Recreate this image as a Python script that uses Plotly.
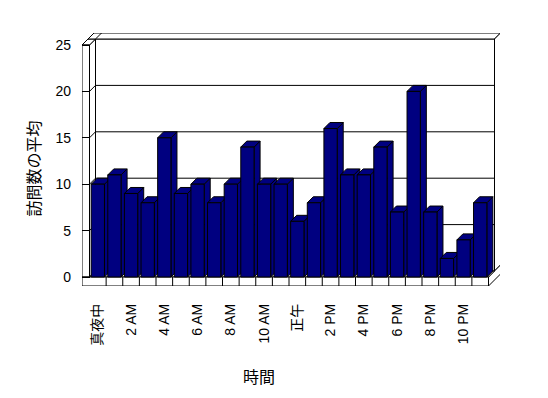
import plotly.graph_objects as go

# ---- data ----
categories = ["真夜中", "1 AM", "2 AM", "3 AM", "4 AM", "5 AM", "6 AM", "7 AM",
              "8 AM", "9 AM", "10 AM", "11 AM", "正午", "1 PM", "2 PM", "3 PM",
              "4 PM", "5 PM", "6 PM", "7 PM", "8 PM", "9 PM", "10 PM", "11 PM"]
visits = [10, 11, 9, 8, 15, 9, 10, 8, 10, 14, 10, 10,
          6, 8, 16, 11, 11, 14, 7, 20, 7, 2, 4, 8]
y_ticks = [0, 5, 10, 15, 20, 25]
x_title = "時間"
y_title = "訪問数の平均"

# ---- geometry (pixels) ----
W, H = 548, 398
L, R, T, B = 82, 48, 33, 112
plot_w, plot_h = W - L - R, H - T - B
front_left_px, front_right_px = 89.5, 488.5      # front plane x extent
zero_px, top_px = 277.0, 45.0                     # front plane y for 0 and 25
n = len(categories)
cat_px = (front_right_px - front_left_px) / n
unit_px = (zero_px - top_px) / 25.0
depth_px = 6.0

x0 = -0.5 - (front_left_px - L) / cat_px
x1 = x0 + plot_w / cat_px
y0 = -((T + plot_h) - zero_px) / unit_px
y1 = y0 + plot_h / unit_px
DX = depth_px / cat_px
DY = depth_px / unit_px
XL, XR = -0.5, n - 0.5
YT = max(y_ticks)


def P(x, y, z):
    return (x + z * DX, y + z * DY)


def path(pts):
    s = "M " + " L ".join(f"{x:.4f},{y:.4f}" for x, y in pts) + " Z"
    return s


shapes = []


def face(pts, fill="white"):
    shapes.append(dict(type="path", xref="x", yref="y", path=path(pts),
                       fillcolor=fill, line=dict(color="black", width=1),
                       layer="below"))


def seg(a, b):
    shapes.append(dict(type="line", xref="x", yref="y", x0=a[0], y0=a[1],
                       x1=b[0], y1=b[1], line=dict(color="black", width=1),
                       layer="below"))


# back wall (z from 1 to 2)
face([P(XL, 0, 1), P(XR, 0, 1), P(XR, YT, 1), P(XL, YT, 1)])
face([P(x0, YT, 1), P(XR, YT, 1), P(XR, YT, 2), P(x0, YT, 2)])
face([P(XR, 0, 1), P(XR, 0, 2), P(XR, YT, 2), P(XR, YT, 1)])
# floor right side
face([P(XR, y0, 0), P(XR, y0, 2), P(XR, 0, 2), P(XR, 0, 0)])
# left wall
face([P(XL, 0, 0), P(XL, 0, 1), P(XL, YT, 1), P(XL, YT, 0)])
face([P(x0, YT, 0), P(XL, YT, 0), P(XL, YT, 1), P(x0, YT, 1)])
face([P(x0, YT, 1), P(XL, YT, 1), P(XL, YT, 2), P(x0, YT, 2)])
face([P(x0, 0, 0), P(XL, 0, 0), P(XL, YT, 0), P(x0, YT, 0)])
# floor
face([P(XL, 0, 0), P(XR, 0, 0), P(XR, 0, 1), P(XL, 0, 1)])
face([P(x0, y0, 0), P(XR, y0, 0), P(XR, 0, 0), P(x0, 0, 0)])

# gridlines
for v in y_ticks[1:-1]:
    seg(P(XL, v, 1), P(XR, v, 1))
    seg(P(XL, v, 0), P(XL, v, 1))

# category tick marks on floor front
for k in range(1, n):
    seg(P(k - 0.5, y0, 0), P(k - 0.5, 0, 0))

# bar sides and tops (3D effect)
bw = 0.8
navy = "#000080"
for i, v in enumerate(visits):
    l, r = i - bw / 2, i + bw / 2
    face([P(r, 0, 0), P(r, 0, 1), P(r, v, 1), P(r, v, 0)], navy)
    face([P(l, v, 0), P(l, v, 1), P(r, v, 1), P(r, v, 0)], navy)

fig = go.Figure()
fig.add_trace(go.Bar(x=list(range(n)), y=visits, width=bw,
                     marker=dict(color=navy, line=dict(color="black", width=1)),
                     hoverinfo="skip"))

font_latin = "Liberation Sans, Arial, Noto Sans CJK JP, sans-serif"
font_cjk = "Noto Sans CJK JP, sans-serif"

fig.update_layout(
    width=W, height=H,
    margin=dict(l=L, r=R, t=T, b=B, pad=0, autoexpand=False),
    paper_bgcolor="white", plot_bgcolor="white",
    showlegend=False,
    shapes=shapes,
    font=dict(family=font_latin, size=14, color="black"),
    xaxis=dict(range=[x0, x1], tickvals=list(range(0, n, 2)),
               ticktext=categories[0::2], tickangle=-90,
               showgrid=False, zeroline=False, showline=False, ticks="",
               ticklabelstandoff=14, automargin=False,
               tickfont=dict(family=font_latin, size=14, color="black")),
    yaxis=dict(range=[y0, y1], tickvals=y_ticks, ticks="inside",
               ticklen=int(round(front_left_px - L)), tickcolor="black", tickwidth=1,
               showgrid=False, zeroline=False, showline=False,
               ticklabelstandoff=10, automargin=False,
               tickfont=dict(family=font_latin, size=14, color="black")),
    annotations=[
        dict(text=x_title, xref="paper", yref="paper",
             x=(259 - L) / plot_w, y=((T + plot_h) - 375.5) / plot_h,
             xanchor="center", yanchor="middle", showarrow=False,
             font=dict(family=font_cjk, size=16, color="black")),
        dict(text=y_title, xref="paper", yref="paper",
             x=(32 - L) / plot_w, y=((T + plot_h) - 168.5) / plot_h,
             xanchor="center", yanchor="middle", showarrow=False, textangle=-90,
             font=dict(family=font_cjk, size=16, color="black")),
    ],
)

fig.write_html("out.html", config={"displayModeBar": False},
               post_script="document.body.style.margin='0';document.body.style.overflow='hidden';")
